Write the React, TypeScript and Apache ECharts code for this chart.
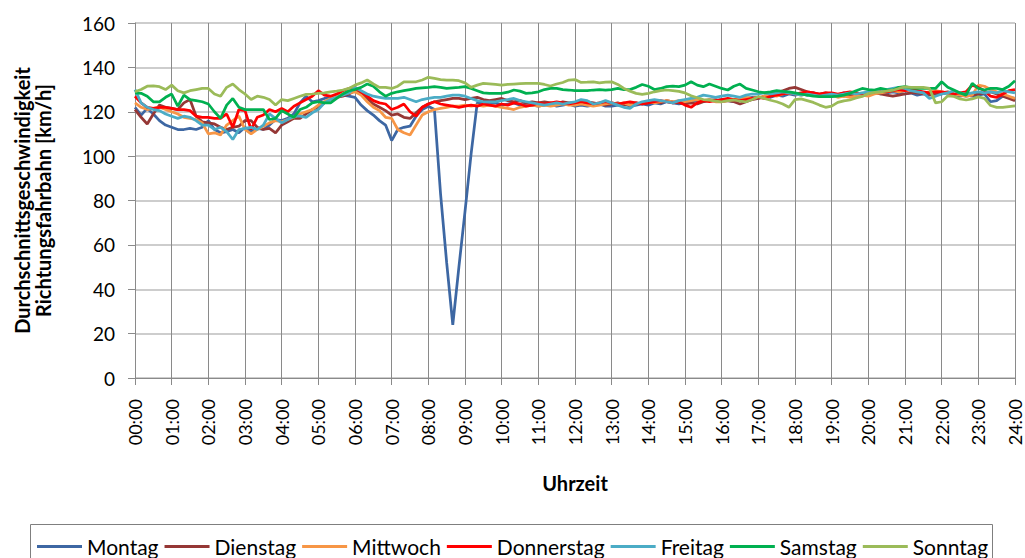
import React, { useEffect, useRef } from "react";
import * as echarts from "echarts";

// 10-minute time slots from 00:00 to 24:00
const times: string[] = [];
for (let h = 0; h <= 24; h++) {
  for (let m = 0; m < 60; m += 10) {
    if (h === 24 && m > 0) break;
    times.push(`${String(h).padStart(2, "0")}:${String(m).padStart(2, "0")}`);
  }
}

const yTicks = [0, 20, 40, 60, 80, 100, 120, 140, 160];

const seriesNames = ["Montag", "Dienstag", "Mittwoch", "Donnerstag", "Freitag", "Samstag", "Sonntag"];
const seriesColors = ["#3D67A3", "#953735", "#F79646", "#FF0000", "#4BACC6", "#00B050", "#9BBB59"];

const montag = [
  122, 118.5, 121.5, 119, 116, 114,
  113, 112, 112, 112.5, 112, 113,
  116, 112, 110.5, 111, 112, 110.5,
  113, 111, 112.5, 112, 114, 116.5,
  116, 117, 119, 124, 127, 124.5,
  125, 126, 126.5, 127, 127.5, 127,
  126.5, 123, 120.5, 118.5, 116, 114,
  107, 112, 113, 113.5, 118, 121,
  122.5, 121, 83, 52, 24, 50,
  75, 101, 124, 124, 123.5, 124,
  123, 123.5, 124, 123, 123.5, 123,
  122.5, 123, 123.5, 122.5, 123, 123.5,
  122.5, 123, 122.5, 123, 123.5, 122.5,
  122.5, 123, 123.5, 122.5, 123, 123.5,
  123, 124, 123.5, 124.5, 124, 123.5,
  124, 124.5, 125, 124.5, 125.5, 125,
  125.5, 125, 124.5, 125.5, 126, 126.5,
  126, 127, 126.5, 127.5, 127, 128,
  127.5, 128, 127.5, 128.5, 127.5, 128,
  128, 127.5, 128.5, 128, 128.5, 128,
  128.5, 129, 128, 128.5, 129, 128.5,
  128, 128.5, 127.5, 128, 128.5, 128,
  128, 128.5, 127.5, 127, 127.5, 127,
  127.5, 128, 124.5, 125, 127, 126.5,
  126,
];

const dienstag = [
  121, 117.5, 114.5, 119, 123, 122,
  121.5, 121, 124, 125.5, 118, 115.5,
  115, 114.5, 113, 112, 113, 113.5,
  116, 116, 113, 112, 112.5, 110.5,
  114, 115.5, 117, 117, 119, 121,
  122, 124, 125.5, 126.5, 127, 128,
  129.5, 128, 126, 123.5, 122, 120.5,
  118.5, 119, 117.5, 117, 119.5, 122,
  123.5, 124.5, 125, 125.5, 126, 126,
  125.5, 126, 126.5, 125.5, 125, 125.5,
  126, 125, 124.5, 125, 124, 124.5,
  124, 124.5, 124, 123.5, 124.5, 124,
  124, 123.5, 124.5, 124, 123.5, 123,
  123.5, 124, 123, 123.5, 124, 123.5,
  124, 124.5, 124, 125, 124.5, 124,
  123.5, 124, 123.5, 124.5, 125, 125.5,
  124.5, 125, 124.5, 123.5, 124.5, 125.5,
  126, 127, 127.5, 128.5, 129.5, 130.5,
  131, 130, 129, 128.5, 128, 128.5,
  128, 127.5, 127, 127.5, 128, 127.5,
  128, 128.5, 128, 127.5, 127, 127.5,
  128, 128.5, 128.5, 128, 127.5, 128,
  128.5, 129, 128, 127.5, 127, 127.5,
  128, 128.5, 129, 128, 127, 126,
  125,
];

const mittwoch = [
  124, 122, 121, 121.5, 122, 121,
  120, 119, 117.5, 117, 116.5, 115,
  110, 110.5, 109.5, 114, 116, 118,
  112, 110, 112, 113.5, 115, 116,
  115.5, 116.5, 117.5, 119, 120, 121,
  123, 124.5, 126, 127, 128, 128.5,
  129, 127.5, 124.5, 122, 120.5, 117.5,
  117, 112, 110.5, 109.5, 114, 118.5,
  120, 121, 121.5, 122, 122.5, 122.5,
  123, 122.5, 123, 122.5, 123, 122.5,
  122, 121.5, 121, 122, 122.5, 123,
  122.5, 123, 122.5, 123, 123.5, 123,
  123, 123.5, 123, 122.5, 123, 123.5,
  124, 123.5, 124, 123, 123.5, 124,
  124.5, 124, 124.5, 125, 124.5, 125,
  124.5, 125, 125.5, 125, 125.5, 124.5,
  124.5, 125, 125.5, 126, 126.5, 126,
  126.5, 127, 127.5, 127, 128, 128.5,
  128, 127.5, 128, 127.5, 128, 127.5,
  127.5, 126.5, 127, 126.5, 127, 127.5,
  127, 128, 128.5, 129, 129.5, 129,
  129.5, 130, 129.5, 128.5, 129, 129.5,
  129, 128.5, 128, 127.5, 127, 127.5,
  132, 131.5, 130, 129, 128, 127,
  126,
];

const donnerstag = [
  127, 124, 122, 121.5, 122, 122,
  121.5, 121, 121, 120.5, 118, 117.5,
  117.5, 117, 117, 119, 113, 121,
  120.5, 112, 117.5, 118.5, 121, 120,
  121.5, 120, 122.5, 124, 125.5, 127,
  129.5, 127.5, 127, 128, 129.5, 130.5,
  131, 129, 127, 125, 124, 123.5,
  121, 122, 123.5, 120, 118, 122,
  123.5, 124.5, 123.5, 123, 122.5, 122,
  122.5, 123, 122.5, 123.5, 123, 122.5,
  123.5, 123, 124, 123.5, 122.5, 123,
  124, 123.5, 124, 124.5, 124, 123.5,
  124, 124.5, 124, 123.5, 124, 124.5,
  124, 123.5, 124, 124.5, 124, 123.5,
  124, 124.5, 125, 124.5, 124, 124.5,
  123, 122, 124, 125, 124.5, 125,
  125.5, 126, 125.5, 125, 125.5, 126,
  126.5, 126, 127, 127.5, 128, 128.5,
  128, 128.5, 129, 128.5, 128, 128.5,
  128.5, 128, 128.5, 129, 128.5, 128,
  128.5, 129, 129.5, 129, 129.5, 130,
  129.5, 130, 129.5, 129, 128.5, 129,
  129, 128.5, 128, 128.5, 129, 132,
  131, 129.5, 127, 126.5, 128, 129.5,
  130,
];

const freitag = [
  130, 124, 122, 121, 120.5, 119,
  118, 117, 118, 117.5, 116, 114,
  114, 112, 113, 111, 107.5, 112,
  112.5, 113, 112, 114, 119, 117,
  115, 116.5, 118, 118, 117.5, 119.5,
  121, 124, 125.5, 126.5, 127.5, 128.5,
  131, 129.5, 128, 127, 126.5, 126,
  126, 126, 126.5, 125.5, 124.5, 125.5,
  126, 126.5, 126.5, 127, 127.5, 127.5,
  127, 126, 125, 124.5, 124.5, 124.5,
  125, 125.5, 126, 125, 124.5, 124,
  123.5, 123, 123.5, 124, 123.5, 124,
  124.5, 125.5, 125, 123.5, 124, 125,
  124, 123, 122, 121.5, 123.5, 124.5,
  125, 125.5, 125, 124.5, 124, 125,
  125.5, 126, 126.5, 127.5, 127, 126.5,
  127, 127.5, 127, 126.5, 127.5, 128,
  128, 128.5, 128, 128.5, 129, 128.5,
  128, 127.5, 128, 127.5, 127, 127.5,
  128, 127.5, 128, 128.5, 128, 128.5,
  129, 129.5, 129, 130, 130.5, 131,
  130.5, 129.5, 129, 128.5, 126, 127,
  128, 128.5, 129.5, 128.5, 128, 128.5,
  129, 128.5, 129, 128.5, 129.5, 129,
  128.5,
];

const samstag = [
  128.5, 128.3, 127, 124.5, 124.5, 126.5,
  128, 122.5, 127.5, 125.5, 125, 124.5,
  123.5, 120, 117, 123, 126, 122,
  121, 121, 121, 121, 116.5, 117,
  120.5, 119, 117.5, 121, 122, 124,
  124.5, 124, 124, 126, 128, 129.5,
  130, 131, 132.5, 131.5, 129, 127,
  128.3, 129, 129.5, 130, 130.5, 130.8,
  131, 131.3, 131, 130.5, 130.8, 131,
  131.3, 130.5, 129.5, 128.5, 128.3, 128.3,
  128.3, 128.8, 129.8, 129.3, 128.3, 128.5,
  129, 130, 130.5, 130.5, 130, 129.8,
  129.5, 129.5, 129.5, 129.8, 130, 129.8,
  130, 130.5, 130, 130, 131, 132.3,
  131.5, 130, 130.5, 131.3, 131.6, 131.3,
  132, 133.5, 132, 131.3, 132.5, 131.5,
  130.5, 129.8, 131.5, 132.5, 130.5, 129.8,
  129, 128.6, 129, 129.5, 129.2, 129,
  128.5, 128, 127.5, 127, 126.8, 126.8,
  126.8, 127, 127.5, 128.3, 129.5, 130.5,
  130, 129.8, 130.5, 130, 129.8, 131,
  131.3, 130.8, 130.5, 130.5, 130.5, 130.5,
  133.5, 131, 129.8, 128.5, 127.5, 132.8,
  130.5, 129.8, 130.5, 130.5, 130, 131.5,
  134,
];

const sonntag = [
  129, 130, 131.5, 131.7, 131.3, 130,
  132, 129.5, 128.5, 129.5, 130, 130.5,
  130.5, 128, 127, 131, 132.5, 130,
  128, 125.5, 127, 126.5, 125.5, 123,
  125.5, 125, 126, 127, 127.8, 128,
  128.3, 128.5, 129, 129.3, 129.8, 130.5,
  132, 133, 134.3, 132.5, 131, 131,
  130.5, 131.5, 133.5, 133.5, 133.5, 134.3,
  135.5, 135, 134.5, 134.3, 134.3, 134,
  133, 131, 132, 132.8, 132.6, 132.3,
  132, 132.3, 132.5, 132.7, 132.8, 132.8,
  132.8, 132.3, 131.6, 132.5, 133.2, 134.3,
  134.5, 133.2, 133.3, 133.5, 133, 133.3,
  133.5, 132.3, 130.5, 129.3, 128.3, 127.8,
  128.3, 129, 129.5, 129.8, 129.5, 129.2,
  128.5, 127.2, 126.3, 125.5, 125.2, 124.8,
  124.5, 125, 125.3, 124.8, 124.5, 125.5,
  126.8, 126, 125.2, 124.5, 123.5, 122,
  125.5, 125.8, 125, 124.2, 123, 122,
  122.5, 124.2, 124.9, 125.3, 126.2, 126.9,
  128.2, 128.7, 129, 129.3, 129.7, 130.5,
  131.2, 131, 131, 131, 130.5, 124,
  124.5, 127.2, 126.9, 125.8, 125.3, 125.8,
  126.7, 126, 122.8, 122, 122, 122.3,
  122.6,
];

const seriesData = [montag, dienstag, mittwoch, donnerstag, freitag, samstag, sonntag];

const FONT = "Lato, 'Open Sans', sans-serif";

export default function App() {
  const ref = useRef<HTMLDivElement>(null);
  useEffect(() => {
    if (!ref.current) return;
    const chart = echarts.init(ref.current, undefined, { renderer: "svg" });
    chart.setOption({
      animation: false,
      backgroundColor: "#ffffff",
      textStyle: { fontFamily: FONT },
      grid: { left: 135, right: 10, top: 23, bottom: 180, containLabel: false },
      legend: {
        left: 37,
        top: 536,
        itemWidth: 45,
        itemHeight: 3,
        itemGap: 6,
        icon: "rect",
        padding: 0,
        textStyle: { fontSize: 21, color: "#000", fontFamily: FONT, padding: [0, 0, 0, 0] },
        data: seriesNames,
      },
      graphic: [
        {
          type: "rect",
          shape: { x: 30.5, y: 524.5, width: 962, height: 60 },
          style: { fill: "none", stroke: "#7f7f7f", lineWidth: 1 },
          silent: true,
        },
      ],
      xAxis: {
        type: "category",
        data: times,
        boundaryGap: false,
        name: "Uhrzeit",
        nameLocation: "middle",
        nameGap: 95,
        nameTextStyle: { fontSize: 20, fontWeight: "bold", color: "#000", fontFamily: FONT },
        axisLine: { show: true, lineStyle: { color: "#8a8a8a", width: 1 } },
        axisTick: { show: true, interval: 5, length: 7, lineStyle: { color: "#8a8a8a" } },
        axisLabel: { interval: 5, rotate: 90, fontSize: 18, lineHeight: 16, color: "#000", margin: 21, fontFamily: FONT },
        splitLine: { show: true, interval: 5, lineStyle: { color: "#8a8a8a", width: 1 } },
      },
      yAxis: {
        type: "value",
        min: 0,
        max: 160,
        interval: 20,
        name: "Durchschnittsgeschwindigkeit\nRichtungsfahrbahn [km/h]",
        nameLocation: "middle",
        nameRotate: 90,
        nameGap: 82,
        nameTextStyle: { fontSize: 20, fontWeight: "bold", color: "#000", lineHeight: 21, fontFamily: FONT },
        axisLine: { show: true, lineStyle: { color: "#8a8a8a", width: 1 } },
        axisTick: { show: true, length: 7, lineStyle: { color: "#8a8a8a" } },
        axisLabel: {
          fontSize: 19,
          color: "#000",
          margin: 20,
          fontFamily: FONT,
          formatter: (v: number) => (yTicks.includes(v) ? String(v) : ""),
        },
        splitLine: { show: true, lineStyle: { color: "#bdbdbd", width: 1.5 } },
      },
      series: seriesNames.map((name, i) => ({
        name,
        type: "line",
        data: seriesData[i],
        symbol: "none",
        smooth: false,
        color: seriesColors[i],
        lineStyle: { width: 2.75, color: seriesColors[i] },
      })),
    });
    return () => chart.dispose();
  }, []);
  return <div ref={ref} style={{ width: 1025, height: 558, position: "absolute", left: 0, top: 0 }} />;
}
